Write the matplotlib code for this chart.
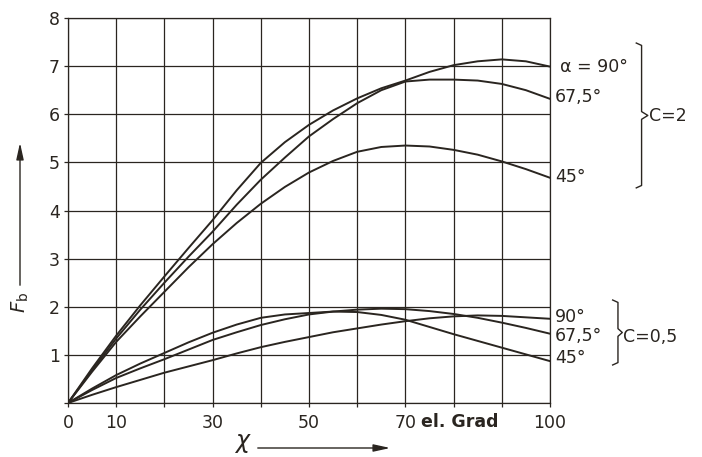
import matplotlib
matplotlib.use("Agg")
import matplotlib.pyplot as plt

# F_b ueber chi (el. Grad), Kurven fuer C=2 und C=0,5 bei alpha = 90, 67,5, 45 Grad
chi = [0, 5, 10, 15, 20, 25, 30, 35, 40, 45, 50, 55, 60, 65, 70, 75, 80, 85, 90, 95, 100]

# C = 2
c2_90 = [0, 0.72, 1.40, 2.03, 2.63, 3.22, 3.80, 4.42, 4.99, 5.42, 5.78, 6.08, 6.33,
         6.54, 6.70, 6.88, 7.02, 7.10, 7.14, 7.10, 6.99]
c2_675 = [0, 0.68, 1.34, 1.94, 2.50, 3.04, 3.56, 4.12, 4.64, 5.10, 5.54, 5.90, 6.23,
          6.50, 6.68, 6.72, 6.72, 6.70, 6.63, 6.50, 6.32]
c2_45 = [0, 0.65, 1.27, 1.80, 2.31, 2.82, 3.30, 3.74, 4.14, 4.49, 4.79, 5.03, 5.22,
         5.32, 5.35, 5.33, 5.26, 5.16, 5.02, 4.86, 4.68]

# C = 0,5
c05_90 = [0, 0.17, 0.33, 0.48, 0.63, 0.76, 0.89, 1.03, 1.16, 1.27, 1.37, 1.47, 1.55,
          1.63, 1.70, 1.76, 1.80, 1.82, 1.81, 1.78, 1.75]
c05_675 = [0, 0.27, 0.52, 0.72, 0.91, 1.11, 1.31, 1.47, 1.62, 1.74, 1.84, 1.90, 1.94,
           1.96, 1.95, 1.91, 1.85, 1.77, 1.67, 1.56, 1.44]
c05_45 = [0, 0.30, 0.58, 0.82, 1.04, 1.26, 1.46, 1.63, 1.77, 1.84, 1.87, 1.90, 1.89,
          1.83, 1.73, 1.58, 1.43, 1.29, 1.15, 1.01, 0.87]

xticks = [0, 10, 20, 30, 40, 50, 60, 70, 80, 90, 100]
xticklabels = ["0", "10", "", "30", "", "50", "", "70", "", "", "100"]
yticks = [0, 1, 2, 3, 4, 5, 6, 7, 8]
yticklabels = ["", "1", "2", "3", "4", "5", "6", "7", "8"]

ink = "#2a2520"
plt.rcParams["font.family"] = ["DejaVu Sans"]

fig = plt.figure(figsize=(7.02, 4.57), dpi=100)
ax = fig.add_axes([68 / 702, 54 / 457, 482 / 702, 385 / 457])

ax.set_xlim(0, 100)
ax.set_ylim(0, 8)
ax.set_xticks(xticks)
ax.set_xticklabels(xticklabels)
ax.set_yticks(yticks)
ax.set_yticklabels(yticklabels)
ax.tick_params(length=3, width=0.9, color=ink, labelcolor=ink, labelsize=12.5)
ax.tick_params(axis="x", pad=5)
ax.tick_params(axis="y", pad=3)
ax.grid(True, color=ink, linewidth=0.9)
ax.set_axisbelow(True)
for s in ax.spines.values():
    s.set_color(ink)
    s.set_linewidth(0.9)

for ys in [c2_90, c2_675, c2_45, c05_90, c05_675, c05_45]:
    ax.plot(chi, ys, color=ink, linewidth=1.4)

# Beschriftung rechts
kw = dict(color=ink, fontsize=12.5, va="center", ha="left", clip_on=False)
ax.text(102, 6.98, "α = 90°", **kw)
ax.text(101, 6.36, "67,5°", **kw)
ax.text(101, 4.70, "45°", **kw)
ax.text(101, 1.79, "90°", **kw)
ax.text(101, 1.39, "67,5°", **kw)
ax.text(101, 0.93, "45°", **kw)
ax.text(120.6, 5.97, "C=2", **kw)
ax.text(115.2, 1.37, "C=0,5", **kw)


def brace(x, top, bot, d=1.1, tip=1.3):
    mid = (top + bot) / 2
    bx = [x - d, x, x, x + tip, x, x, x - d]
    by = [top, top - 0.05, mid + 0.08, mid, mid - 0.08, bot + 0.05, bot]
    ax.plot(bx, by, color=ink, linewidth=1.0, clip_on=False)


brace(119.0, 7.48, 4.47)
brace(114.1, 2.14, 0.79, tip=0.9)

ax.text(81.3, -0.39, "el. Grad", color=ink, fontsize=12.5, fontweight="bold",
        ha="center", va="center", clip_on=False)

# Achsenpfeile
arrow = dict(arrowstyle="-|>,head_length=1.0,head_width=0.22", color=ink, lw=1.0)
ax.annotate("", xy=(20 / 702, 1 - 140 / 457), xytext=(20 / 702, 1 - 288 / 457),
            xycoords="figure fraction", textcoords="figure fraction", arrowprops=arrow)
ax.annotate("", xy=(393 / 702, 1 - 448 / 457), xytext=(255 / 702, 1 - 448 / 457),
            xycoords="figure fraction", textcoords="figure fraction", arrowprops=arrow)
fig.text(243 / 702, 1 - 443 / 457, r"$\chi$", color=ink, fontsize=17, ha="center", va="center")
fig.text(20 / 702, 1 - 302 / 457, r"$F_\mathrm{b}$", color=ink, fontsize=14, rotation=90,
         ha="center", va="center")

fig.savefig("out.png", dpi=100, facecolor="white")
